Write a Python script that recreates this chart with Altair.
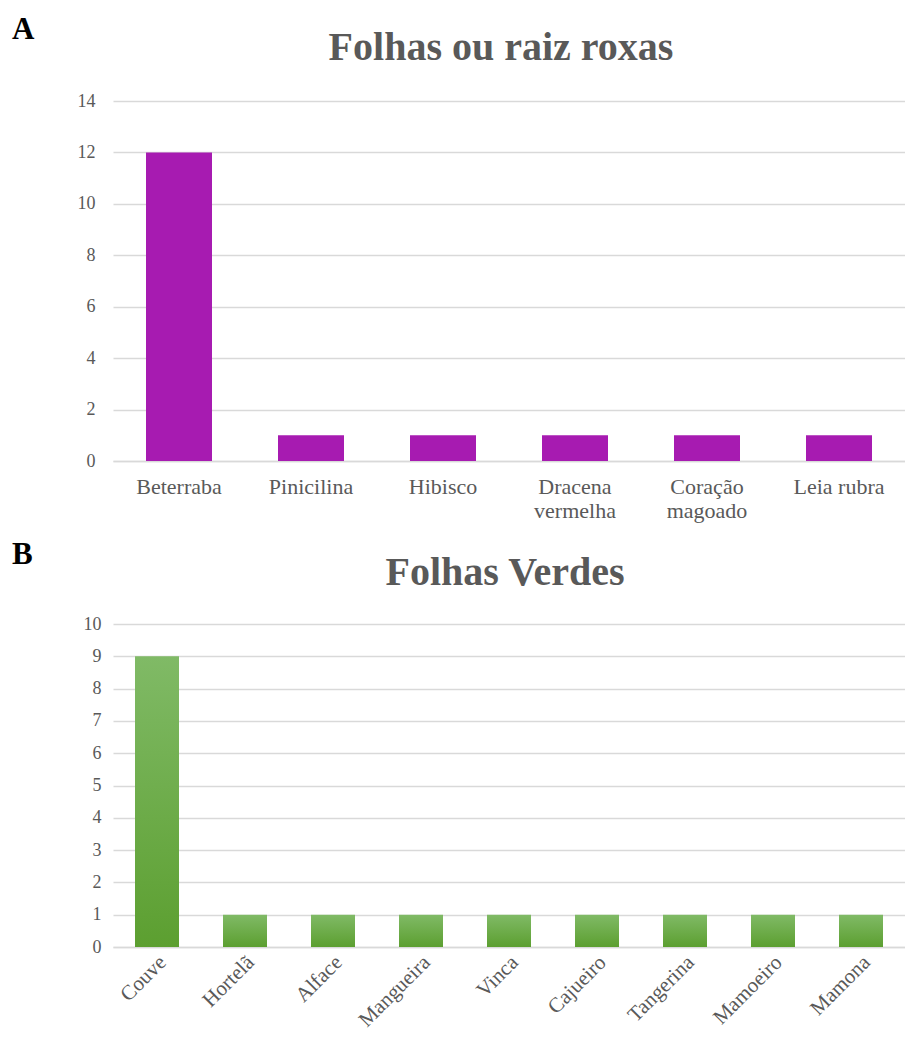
import altair as alt
import pandas as pd

# ---- data ----
roxas_cat = ["Beterraba", "Pinicilina", "Hibisco", "Dracena vermelha", "Coração magoado", "Leia rubra"]
roxas_val = [12, 1, 1, 1, 1, 1]
roxas_ticks = [0, 2, 4, 6, 8, 10, 12, 14]

verdes_cat = ["Couve", "Hortelã", "Alface", "Mangueira", "Vinca", "Cajueiro", "Tangerina", "Mamoeiro", "Mamona"]
verdes_val = [9, 1, 1, 1, 1, 1, 1, 1, 1]
verdes_ticks = [0, 1, 2, 3, 4, 5, 6, 7, 8, 9, 10]

FONT = "Liberation Serif"
GRAY = "#595959"
GRID = "#D9D9D9"
PURPLE = "#A71BB1"

dfA = pd.DataFrame({"planta": roxas_cat, "n": roxas_val})
dfB = pd.DataFrame({"planta": verdes_cat, "n": verdes_val})

green_grad = alt.Gradient(
    gradient="linear",
    stops=[alt.GradientStop(color="#80BA66", offset=0),
           alt.GradientStop(color="#5C9F30", offset=1)],
    x1=0, x2=0, y1=0, y2=1,
)

W = 792


def letter(txt, dy):
    return alt.TitleParams(txt, font=FONT, fontSize=31, fontWeight="bold",
                           color="black", anchor="start", frame="group",
                           dx=-101, dy=dy, offset=0)


def heading(txt, x, y):
    return alt.Chart(pd.DataFrame({"t": [txt]})).mark_text(
        font=FONT, fontSize=40, fontWeight="bold", color=GRAY,
        align="center", baseline="middle"
    ).encode(text="t:N", x=alt.value(x), y=alt.value(y))


barsA = alt.Chart(dfA).mark_bar(color=PURPLE).encode(
    x=alt.X("planta:N", sort=roxas_cat, title=None,
            scale=alt.Scale(paddingInner=0.5, paddingOuter=0.25),
            axis=alt.Axis(labelAngle=0, ticks=False, grid=False,
                          domainColor=GRID, domainWidth=1.5,
                          labelFont=FONT, labelFontSize=22, labelColor=GRAY,
                          labelPadding=15, labelLineHeight=24,
                          labelExpr="(indexof(datum.label, 'Dracena') >= 0 || indexof(datum.label, 'magoado') >= 0) ? split(datum.label, ' ') : datum.label")),
    y=alt.Y("n:Q", title=None, scale=alt.Scale(domain=[0, 14]),
            axis=alt.Axis(values=roxas_ticks, domain=False, ticks=False,
                          gridColor=GRID, gridWidth=1.5,
                          labelFont=FONT, labelFontSize=18, labelColor=GRAY,
                          labelPadding=18)),
)

chartA = alt.layer(barsA, heading("Folhas ou raiz roxas", 388, -53)).properties(
    width=W, height=360, title=letter("A", 18))

barsB = alt.Chart(dfB).mark_bar(color=green_grad).encode(
    x=alt.X("planta:N", sort=verdes_cat, title=None,
            scale=alt.Scale(paddingInner=0.5, paddingOuter=0.25),
            axis=alt.Axis(labelAngle=-45, labelAlign="right", labelBaseline="middle",
                          ticks=False, grid=False,
                          domainColor=GRID, domainWidth=1.5,
                          labelFont=FONT, labelFontSize=21, labelColor=GRAY,
                          labelPadding=12, labelOffset=6)),
    y=alt.Y("n:Q", title=None, scale=alt.Scale(domain=[0, 10]),
            axis=alt.Axis(values=verdes_ticks, domain=False, ticks=False,
                          gridColor=GRID, gridWidth=1.5,
                          labelFont=FONT, labelFontSize=18, labelColor=GRAY,
                          labelPadding=12)),
)

chartB = alt.layer(barsB, heading("Folhas Verdes", 392, -51)).properties(
    width=W, height=323, title=letter("B", 18))

chart = alt.vconcat(chartA, chartB, spacing=18).properties(
    padding={"left": 12, "top": 14, "right": 0, "bottom": 0},
    background="white",
).configure_view(stroke=None)

chart.save("out.html", embed_options={"renderer": "svg", "actions": False})
